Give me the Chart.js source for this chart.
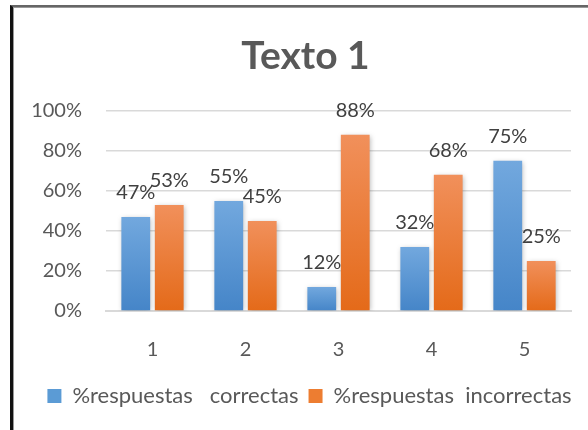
<!DOCTYPE html>
<html>
<head>
<meta charset="utf-8">
<script src="https://cdn.jsdelivr.net/npm/chart.js@4/dist/chart.umd.min.js"></script>
<style>
  body { margin: 0; background: #fff; }
  #wrap { position: relative; width: 588px; height: 430px; }
  #frame {
    position: absolute; left: 10px; top: 5px; right: -10px; bottom: -10px;
    border-left: 3px solid #111; border-top: 2px solid #666;
    box-shadow: inset 1px 1px 0 #999; pointer-events: none;
  }
</style>
</head>
<body>
<div id="wrap">
  <canvas id="chart" width="588" height="430"></canvas>
  <div id="frame"></div>
</div>
<script>
// Datos
const categories = ["1", "2", "3", "4", "5"];
const correctas = [0.47, 0.55, 0.12, 0.32, 0.75];
const incorrectas = [0.53, 0.45, 0.88, 0.68, 0.25];
const seriesNames = ["%respuestas   correctas", "%respuestas  incorrectas"];
const yTicks = [0, 0.2, 0.4, 0.6, 0.8, 1];

const FONT = "Lato, 'Open Sans', sans-serif";

// Gradient per bar, from the bar top down to zero
function barGradient(top, bottom) {
    return function (ctx) {
        const chart = ctx.chart;
        const y = chart.scales.y;
        if (!chart.chartArea || !y || ctx.parsed === undefined) return bottom;
        const y0 = y.getPixelForValue(0);
        const y1 = y.getPixelForValue(ctx.parsed.y);
        if (!isFinite(y1) || y1 === y0) return bottom;
        const g = chart.ctx.createLinearGradient(0, y1, 0, y0);
        g.addColorStop(0, top);
        g.addColorStop(1, bottom);
        return g;
    };
}

// Soft shadow behind bars
const barShadow = {
    id: "barShadow",
    beforeDatasetDraw(chart) {
        const c = chart.ctx;
        c.save();
        c.shadowColor = "rgba(0,0,0,0.28)";
        c.shadowBlur = 5;
        c.shadowOffsetX = 1;
        c.shadowOffsetY = 1;
    },
    afterDatasetDraw(chart) {
        chart.ctx.restore();
    }
};

// Title and legend are centred on the whole frame, not only on the plot
const centreBlocks = {
    id: "centreBlocks",
    afterLayout(chart) {
        if (chart.titleBlock) chart.titleBlock.left = 40;
        if (chart.legend) {
            chart.legend.left += 24;
            chart.legend.right += 24;
        }
    }
};

// Percent labels above each bar
const valueLabels = {
    id: "valueLabels",
    afterDatasetsDraw(chart) {
        const c = chart.ctx;
        c.save();
        c.font = "20px " + FONT;
        c.fillStyle = "#404040";
        c.textAlign = "center";
        c.textBaseline = "middle";
        chart.data.datasets.forEach((ds, i) => {
            chart.getDatasetMeta(i).data.forEach((bar, j) => {
                c.fillText(Math.round(ds.data[j] * 100) + "%", bar.x, bar.y - 24);
            });
        });
        c.restore();
    }
};

new Chart(document.getElementById("chart"), {
    type: "bar",
    data: {
        labels: categories,
        datasets: [
            {
                label: seriesNames[0],
                data: correctas,
                backgroundColor: barGradient("#72a8de", "#4585c8"),
                categoryPercentage: 0.72,
                barPercentage: 0.86,
            },
            {
                label: seriesNames[1],
                data: incorrectas,
                backgroundColor: barGradient("#f1905b", "#e46a19"),
                categoryPercentage: 0.72,
                barPercentage: 0.86,
            },
        ],
    },
    options: {
        responsive: false,
        animation: false,
        layout: { padding: { left: 0, right: 17, top: 8, bottom: 13 } },
        plugins: {
            title: {
                display: true,
                text: "Texto 1",
                color: "#595959",
                font: { family: FONT, size: 39, weight: "bold" },
                padding: { top: 25, bottom: 31 },
            },
            legend: {
                position: "bottom",
                labels: {
                    color: "#595959",
                    font: { family: FONT, size: 22 },
                    boxWidth: 14,
                    boxHeight: 14,
                    padding: 10,
                    generateLabels(chart) {
                        const solid = ["#5b9bd5", "#ed7d31"];
                        return chart.data.datasets.map((ds, i) => ({
                            text: ds.label,
                            fillStyle: solid[i],
                            strokeStyle: solid[i],
                            lineWidth: 0,
                            datasetIndex: i,
                            fontColor: "#595959",
                        }));
                    },
                },
            },
            tooltip: { enabled: false },
        },
        scales: {
            x: {
                grid: { display: false },
                border: { display: true, color: "#d9d9d9", width: 2 },
                ticks: { color: "#595959", font: { family: FONT, size: 20 }, padding: 19 },
                afterFit(scale) { scale.height = 64; },
            },
            y: {
                min: 0,
                max: 1,
                afterBuildTicks(scale) { scale.ticks = yTicks.map(v => ({ value: v })); },
                grid: { color: "#d9d9d9", lineWidth: 1.5, drawTicks: false },
                border: { display: false },
                ticks: {
                    color: "#595959",
                    font: { family: FONT, size: 20 },
                    padding: 24,
                    callback: v => Math.round(v * 100) + "%",
                },
                afterFit(scale) { scale.width = 106; },
            },
        },
    },
    plugins: [barShadow, centreBlocks, valueLabels],
});
</script>
</body>
</html>
